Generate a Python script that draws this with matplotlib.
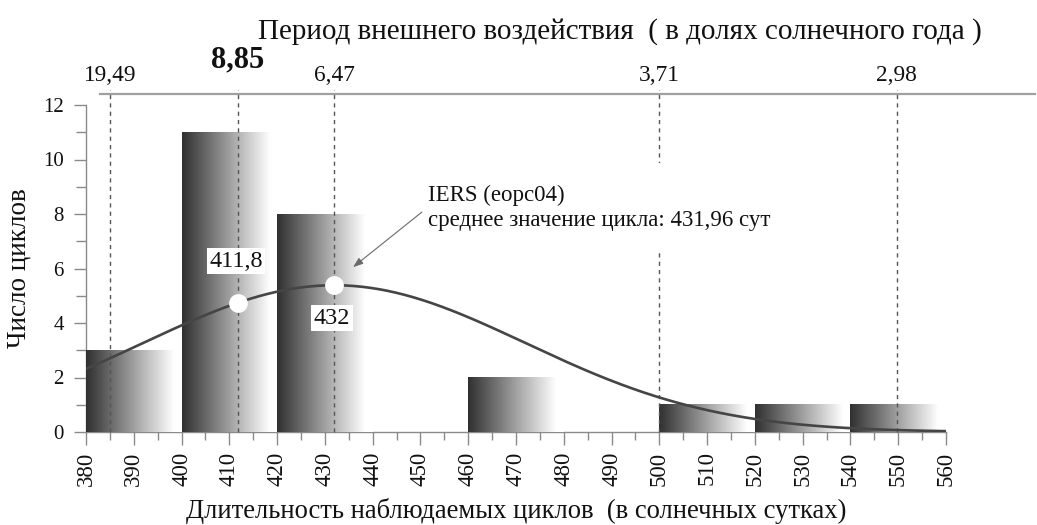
import numpy as np
import matplotlib
matplotlib.use("Agg")
import matplotlib.pyplot as plt
from matplotlib.colors import LinearSegmentedColormap
from matplotlib.transforms import ScaledTranslation

# Histogram of observed cycle lengths (days)
bin_left = [380, 400, 420, 440, 460, 480, 500, 520, 540]
counts = [3, 11, 8, 0, 2, 0, 1, 1, 1]
bin_width = 20

# Normal fit to the histogram
mean_days = 431.96
sigma_days = 40.0

# Highlighted points on the fitted curve
marker_days = [411.8, 432.0]
marker_labels = ["411,8", "432"]

# Forcing periods (fractions of a solar year) and matching cycle lengths (days)
period_days = [385.0, 411.8, 432.0, 500.0, 549.7]
period_labels = ["19,49", "8,85", "6,47", "3,71", "2,98"]

plt.rcParams["font.family"] = ["Liberation Serif", "DejaVu Serif"]

W, H = 1037, 525
fig = plt.figure(figsize=(W / 100, H / 100), dpi=100)

ax_l, ax_r, ax_b, ax_t = 86, 946, 432, 105
ax = fig.add_axes([ax_l / W, 1 - ax_b / H, (ax_r - ax_l) / W, (ax_b - ax_t) / H])

x_min, x_max = 380, 560
y_min, y_max = 0, 12

# Gradient-filled bars
fade = LinearSegmentedColormap.from_list(
    "fade", [(0.0, "#303030"), (0.92, "#ffffff"), (1.0, "#ffffff")]
)
grad = np.linspace(0, 1, 256).reshape(1, -1)
for x0, c in zip(bin_left, counts):
    if c > 0:
        ax.imshow(grad, cmap=fade, extent=(x0, x0 + bin_width, 0, c),
                  aspect="auto", origin="lower", interpolation="bilinear",
                  zorder=3)

# Fitted normal curve scaled to counts
total = sum(counts)


def fitted(x):
    x = np.asarray(x, dtype=float)
    return total * bin_width / (sigma_days * np.sqrt(2 * np.pi)) * \
        np.exp(-0.5 * ((x - mean_days) / sigma_days) ** 2)


xs = np.linspace(x_min, x_max, 400)
ax.plot(xs, fitted(xs), color="#454545", lw=1.9, zorder=5, solid_capstyle="round")

# Dashed guide lines up to the period axis
line_top = (ax_b - 94) / (ax_b - ax_t) * (y_max - y_min)
ax.vlines(period_days, 0, line_top + 0.15, colors="#555555",
          linestyles=(0, (3, 3)), lw=1.0, zorder=4, clip_on=False)

# Points on the curve with value labels
ax.plot(marker_days, fitted(marker_days), "o", ms=12.5, mfc="white",
        mec="white", zorder=6)
label_pos = [(411.4, 6.27), (431.4, 4.18)]
for (lx, ly), txt in zip(label_pos, marker_labels):
    ax.text(lx, ly, txt, ha="center", va="center", fontsize=17.5, color="#111111",
            bbox=dict(fc="white", ec="none", pad=2.0), zorder=7)

# Annotation for the mean cycle, on a white panel that interrupts the guides
ax.text(451.6, 8.22, "IERS (eopc04)\nсреднее значение цикла: 431,96 сут",
        ha="left", va="center", fontsize=16.5, color="#111111",
        linespacing=1.3, zorder=7,
        bbox=dict(boxstyle="square,pad=0.95", fc="white", ec="none"))
ax.annotate("", xy=(435.9, 6.05), xytext=(450.3, 8.07),
            arrowprops=dict(arrowstyle="-|>,head_length=0.6,head_width=0.22",
                            color="#6a6a6a", lw=0.8, shrinkA=0, shrinkB=0),
            zorder=8)

ax.set_xlim(x_min, x_max)
ax.set_ylim(y_min, y_max)

ax.set_xticks(np.arange(380, 561, 10))
ax.set_xticks(np.arange(385, 560, 10), minor=True)
ax.set_yticks(np.arange(0, 13, 2))
ax.set_yticks(np.arange(1, 12, 2), minor=True)

for side in ("top", "right"):
    ax.spines[side].set_visible(False)
for side in ("left", "bottom"):
    ax.spines[side].set_color("#8a8a8a")
    ax.spines[side].set_linewidth(1.0)

ax.tick_params(axis="x", which="major", length=9, width=1, color="#8a8a8a",
               labelsize=16.5, pad=5, labelrotation=90, labelcolor="#111111")
ax.tick_params(axis="x", which="minor", length=6, width=1, color="#8a8a8a")
ax.tick_params(axis="y", which="major", length=9, width=1, color="#8a8a8a",
               labelsize=15, pad=7, labelcolor="#111111")
ax.tick_params(axis="y", which="minor", length=7, width=1, color="#8a8a8a")

ax.set_xlabel("Длительность наблюдаемых циклов  (в солнечных сутках)",
              fontsize=19.2, color="#111111", labelpad=9)
ax.set_ylabel("Число циклов", fontsize=19.5, color="#111111", labelpad=8)

# Period axis across the top
ppu = (ax_r - ax_l) / (x_max - x_min)
top_l, top_r = 100, 1035
ax_top = fig.add_axes([top_l / W, 1 - 94 / H, (top_r - top_l) / W, 0.0001])
ax_top.set_xlim(x_min + (top_l - ax_l) / ppu, x_min + (top_r - ax_l) / ppu)
ax_top.patch.set_visible(False)
for side in ("left", "right", "bottom"):
    ax_top.spines[side].set_visible(False)
ax_top.spines["top"].set_color("#a0a0a0")
ax_top.spines["top"].set_linewidth(1.6)
ax_top.set_yticks([])
ax_top.xaxis.tick_top()
ax_top.set_xticks(period_days, period_labels)
ax_top.tick_params(axis="x", length=0, labelsize=16.8, pad=6,
                   labelcolor="#111111")
bold_label = ax_top.get_xticklabels()[1]
bold_label.set_fontsize(22)
bold_label.set_fontweight("bold")
bold_label.set_transform(bold_label.get_transform() +
                         ScaledTranslation(0, 8 / 72, fig.dpi_scale_trans))

fig.text(620 / W, 1 - 32 / H,
         "Период внешнего воздействия  ( в долях солнечного года )",
         ha="center", va="center", fontsize=21, color="#111111")

fig.savefig("out.png", dpi=100, facecolor="white")
